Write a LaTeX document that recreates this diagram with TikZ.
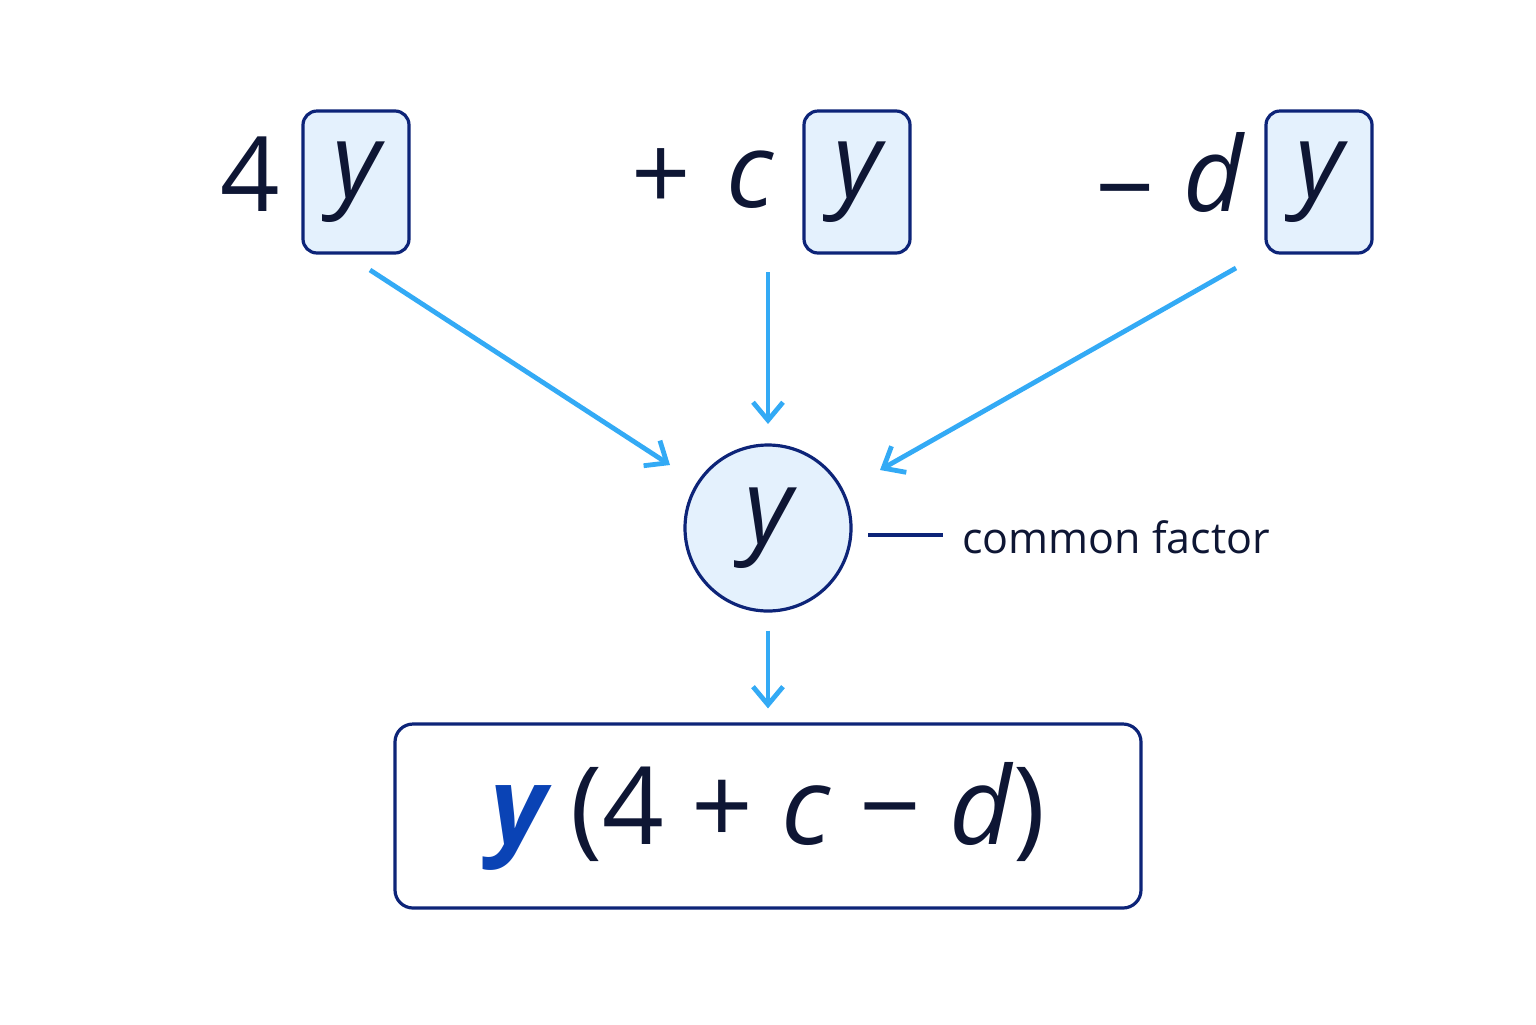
\documentclass[tikz,border=0pt]{standalone}
\usepackage{fontspec}
\setmainfont{Open Sans}
\usetikzlibrary{positioning,arrows.meta}
\definecolor{navy}{RGB}{13,36,120}
\definecolor{ink}{RGB}{14,22,52}
\definecolor{sky}{RGB}{51,170,245}
\definecolor{pale}{RGB}{228,241,253}
\definecolor{yblue}{RGB}{10,67,181}
\tikzset{
  term/.style={text=ink,font=\fontsize{52}{56}\selectfont},
  ybox/.style={draw=navy,line width=1.6pt,fill=pale,rounded corners=7pt,minimum width=53pt,minimum height=71pt,inner sep=0pt,text=ink,font=\fontsize{52}{56}\selectfont\itshape},
  arr/.style={draw=sky,line width=2.4pt,-{Straight Barb[length=9pt,width=15pt,line width=2.4pt]}},
}
\begin{document}
\begin{tikzpicture}[x=0.5pt,y=-0.5pt]
\useasboundingbox (0,0) rectangle (1536,1024);

% top row
\node[term] (four) at (250,174) {4};
\node[ybox] (b1) at (356,182) {\raisebox{-5pt}{y}};
\node[term] (plus) at (661,180) {+};
\node[term,font=\fontsize{52}{56}\selectfont\itshape] (c) at (750,180) {c};
\node[ybox] (b2) at (857,182) {\raisebox{-5pt}{y}};
\node[term] (minus) at (1125,204) {−};
\node[term,font=\fontsize{52}{56}\selectfont\itshape] (d) at (1214,172) {d};
\node[ybox] (b3) at (1319,182) {\raisebox{-5pt}{y}};

% common factor
\node[circle,draw=navy,line width=1.6pt,fill=pale,minimum size=83pt,inner sep=0pt,text=ink,font=\fontsize{52}{56}\selectfont\itshape] (fac) at (768,528) {\raisebox{-5pt}{y}};
\coordinate (tick) at (943,535);
\draw[navy,line width=1.6pt] (868,535) -- (tick);
\node[anchor=west,text=ink,font=\fontsize{21.5}{24}\selectfont,inner sep=0pt] (lbl) at (962,537) {common factor};

% result
\node[draw=navy,line width=1.6pt,rounded corners=9pt,minimum width=373pt,minimum height=92pt,inner sep=0pt,text=ink,font=\fontsize{54}{58}\selectfont] (res) at (768,816) {\textcolor{yblue}{\textbf{\itshape y}}\,(4 + \textit{c} − \textit{d})};

% arrows
\coordinate (s1) at (370,270);
\coordinate (e1) at (670,465);
\coordinate (s2) at (768,272);
\coordinate (e2) at (768,424);
\coordinate (s3) at (1236,268);
\coordinate (e3) at (880,470);
\draw[arr] (s1) -- (e1);
\draw[arr] (s2) -- (e2);
\draw[arr] (s3) -- (e3);
\draw[arr,shorten <=9pt,shorten >=7pt] (fac.south) -- (res.north);
\end{tikzpicture}
\end{document}
